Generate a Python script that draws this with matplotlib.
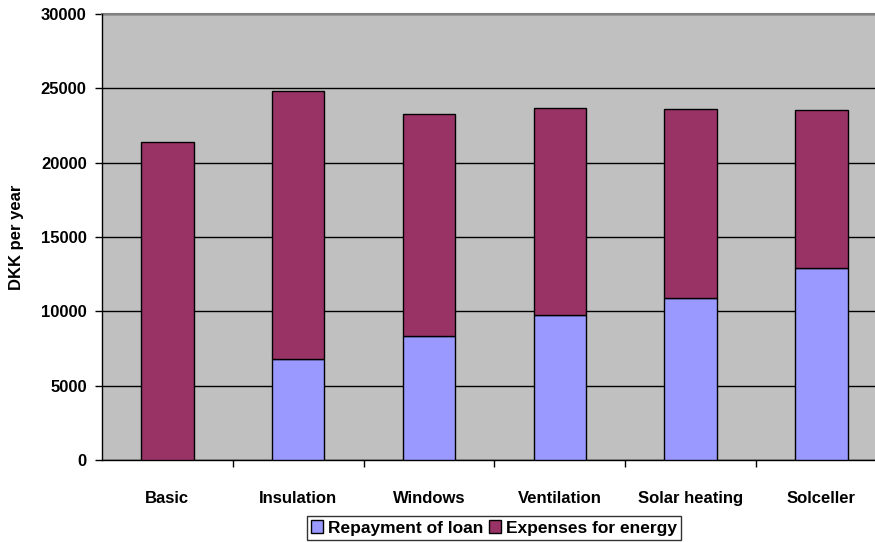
import numpy as np
import matplotlib.pyplot as plt

plt.rcParams['font.family'] = ['Liberation Sans', 'DejaVu Sans']
plt.rcParams['font.weight'] = 'bold'

categories = ['Basic', 'Insulation', 'Windows', 'Ventilation', 'Solar heating', 'Solceller']
loan = [0, 6800, 8330, 9740, 10910, 12910]
energy = [21380, 18000, 14940, 13930, 12700, 10660]

fig = plt.figure(figsize=(8.75, 5.42), dpi=100)
ax = fig.add_axes([102 / 875, 82 / 542, 773 / 875, 446 / 542])
ax.set_facecolor('#C0C0C0')

x = np.arange(len(categories))
w = 0.40
ax.bar(x, loan, w, color='#9999FF', edgecolor='black', linewidth=1,
       label='Repayment of loan', zorder=3)
ax.bar(x, energy, w, bottom=loan, color='#993366', edgecolor='black',
       linewidth=1, label='Expenses for energy', zorder=3)

ax.set_ylim(0, 30000)
ax.set_xlim(-0.5, -0.5 + 773 / 130.8)
ax.set_yticks(np.arange(0, 30001, 5000))
ax.yaxis.grid(True, color='black', linewidth=1, zorder=1)
ax.set_axisbelow(True)
ax.tick_params(axis='y', direction='out', length=5, width=1, labelsize=12, pad=6)

# category labels centred, ticks on the boundaries
ax.set_xticks(x)
ax.set_xticklabels(categories, fontsize=12, fontweight='bold')
ax.tick_params(axis='x', which='major', length=0, pad=22)
ax.set_xticks(np.arange(0.5, len(categories) - 0.5, 1), minor=True)
ax.tick_params(axis='x', which='minor', direction='out', length=5, width=1)

for s in ['top', 'right']:
    ax.spines[s].set_visible(False)
ax.spines['left'].set_linewidth(1)
ax.spines['bottom'].set_linewidth(1)
ax.axhline(30000, color='#808080', linewidth=1.5, zorder=2, clip_on=False)

ax.set_ylabel('DKK per year', fontsize=12, fontweight='bold', labelpad=12)

leg = fig.legend(loc='center', bbox_to_anchor=(494 / 875, 1 - 528 / 542), ncol=2,
                 frameon=True, fancybox=False, edgecolor='black', fontsize=12.5,
                 handlelength=0.7, handleheight=0.7, handletextpad=0.3,
                 columnspacing=0.3, borderpad=0.25, borderaxespad=0)
leg.get_frame().set_linewidth(1)

fig.savefig('out.png', dpi=100)
